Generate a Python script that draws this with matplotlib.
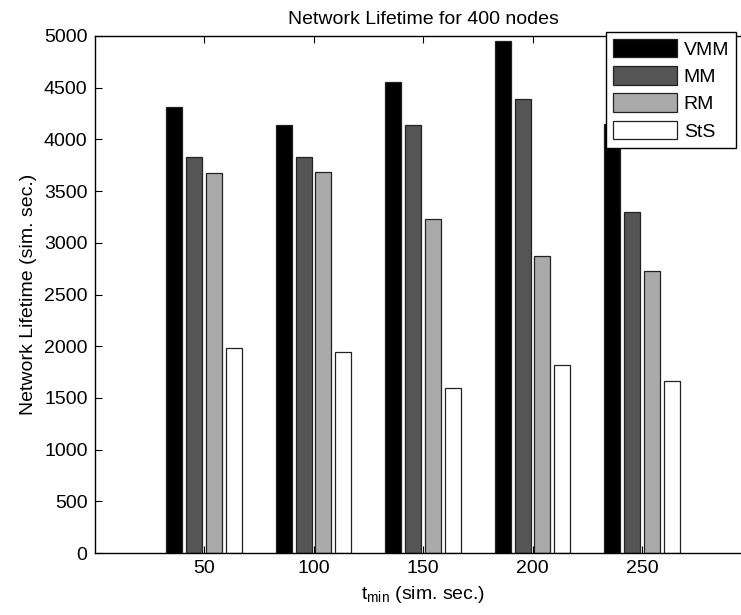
import numpy as np
import matplotlib.pyplot as plt

plt.rcParams['font.family'] = ['Liberation Sans', 'DejaVu Sans']

# lifetime values per t_min setting
t_min = [50, 100, 150, 200, 250]
vmm = [4315, 4141, 4551, 4952, 4150]
mm = [3830, 3831, 4135, 4387, 3302]
rm = [3679, 3689, 3234, 2870, 2730]
sts = [1987, 1945, 1592, 1822, 1664]

series = [("VMM", vmm, "#000000"), ("MM", mm, "#555555"),
          ("RM", rm, "#aaaaaa"), ("StS", sts, "#ffffff")]

fig = plt.figure(figsize=(7.41, 6.15), dpi=100)
ax = fig.add_axes([94.5/741, 62/615, 657/741, 517/615])

x = np.array(t_min, dtype=float)
step = 50*0.727/4
width = step*0.8
for i, (name, vals, col) in enumerate(series):
    ax.bar(x + (i - 1.5)*step, vals, width, color=col, edgecolor='#222222',
           linewidth=0.9, label=name)

ax.set_xlim(0, 300)
ax.set_ylim(0, 5000)
ax.set_xticks(t_min)
ax.set_yticks(np.arange(0, 5001, 500))
ax.tick_params(direction='in', length=5, top=True, right=True,
               labelsize=14, width=0.8, pad=5)
for s in ax.spines.values():
    s.set_linewidth(1.0)

ax.set_title("Network Lifetime for 400 nodes", fontsize=14, pad=9)
ax.set_xlabel("t$_{\\mathregular{min}}$ (sim. sec.)", fontsize=14, labelpad=5)
ax.set_ylabel("Network Lifetime (sim. sec.)", fontsize=14, labelpad=5)

leg = ax.legend(loc='upper right', bbox_to_anchor=(736/741, 1 - 32/615),
                bbox_transform=fig.transFigure, fontsize=14, fancybox=False,
                framealpha=1, edgecolor='black', handlelength=3.3,
                handleheight=1.1, labelspacing=0.38, borderpad=0.35,
                handletextpad=0.35, borderaxespad=0)
leg.get_frame().set_linewidth(1.0)

fig.savefig("out.png", dpi=100)
